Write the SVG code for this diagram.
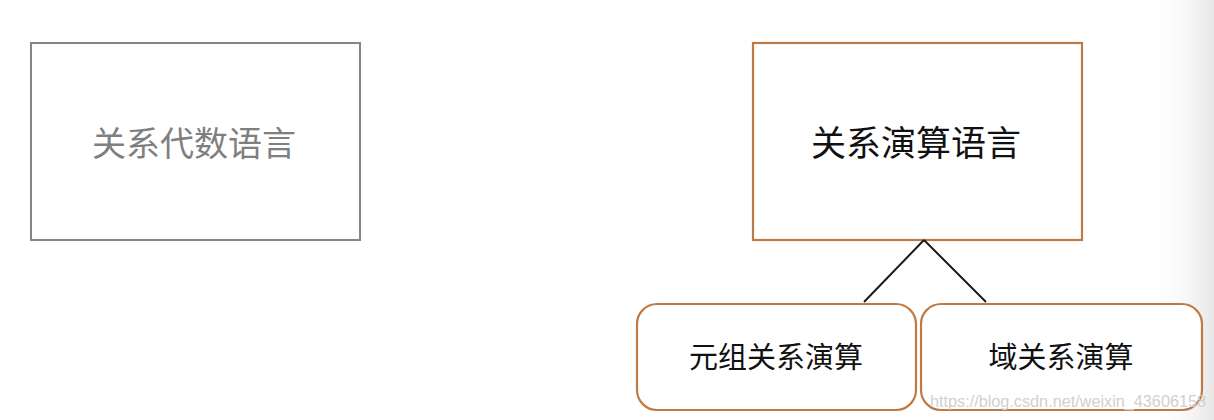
<svg xmlns="http://www.w3.org/2000/svg" width="1214" height="420" viewBox="0 0 1214 420">
<defs>
<linearGradient id="edge" x1="0" y1="0" x2="1" y2="0">
<stop offset="0" stop-color="#ffffff" stop-opacity="0"/>
<stop offset="1" stop-color="#e6e6e6"/>
</linearGradient>
<style>
.t{font-family:"Noto Sans CJK SC","Microsoft YaHei",sans-serif;text-anchor:middle}
.orange{fill:#ffffff;stroke:#bf7b45;stroke-width:2.2}
</style>
</defs>
<rect x="0" y="0" width="1214" height="420" fill="#ffffff"/>
<rect x="1150" y="0" width="64" height="420" fill="url(#edge)"/>
<g id="algebra">
<rect x="31" y="43" width="329" height="197" fill="#ffffff" stroke="#858585" stroke-width="2"/>
<text class="t" x="194" y="156" font-size="34" fill="#7f7f7f">关系代数语言</text>
</g>
<g id="calculus">
<rect class="orange" x="753" y="43" width="329" height="197"/>
<text class="t" x="916" y="156" font-size="35" fill="#111111">关系演算语言</text>
</g>
<g id="connectors" stroke="#1a1a1a" stroke-width="2" fill="none">
<line x1="924" y1="240" x2="864" y2="302"/>
<line x1="924" y1="240" x2="986" y2="302"/>
</g>
<g id="tuple">
<rect class="orange" x="637" y="304" width="279" height="106" rx="20" ry="20"/>
<text class="t" x="776" y="368" font-size="29" fill="#111111">元组关系演算</text>
</g>
<g id="domain">
<rect class="orange" x="921" y="304" width="281" height="106" rx="20" ry="20"/>
<text class="t" x="1061" y="368" font-size="29" fill="#111111">域关系演算</text>
</g>
<text x="930" y="407" font-family="Liberation Sans, Arial, sans-serif" font-size="16" textLength="276" lengthAdjust="spacingAndGlyphs" fill="#d0d0d0">https://blog.csdn.net/weixin_43606158</text>
</svg>
